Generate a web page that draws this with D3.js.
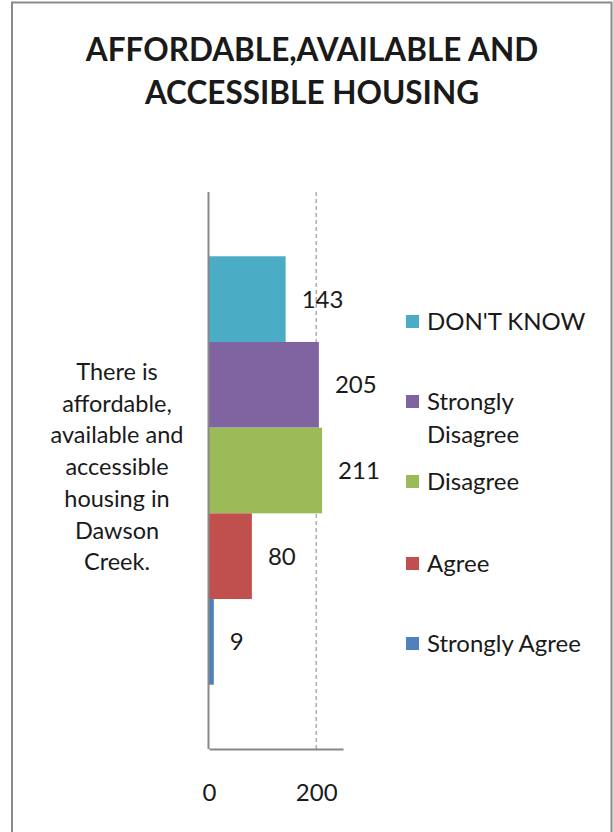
<!DOCTYPE html>
<html>
<head>
<meta charset="utf-8">
<script src="https://cdn.jsdelivr.net/npm/d3@7/dist/d3.min.js"></script>
<style>
  html, body { margin: 0; padding: 0; background: #fff; }
  svg { display: block; }
  text { font-family: Lato, "Open Sans", sans-serif; fill: #1a1a1a; }
</style>
</head>
<body>
<svg id="chart" width="613" height="832"></svg>
<script>
// Survey responses for one statement
const titleLines = ["AFFORDABLE,AVAILABLE AND", "ACCESSIBLE HOUSING"];
const categoryLines = ["There is", "affordable,", "available and", "accessible", "housing in", "Dawson", "Creek."];
const series = ["DON'T KNOW", "Strongly Disagree", "Disagree", "Agree", "Strongly Agree"];
const values = [143, 205, 211, 80, 9];
const colors = ["#4BACC6", "#8064A2", "#9BBB59", "#C0504D", "#4F81BD"];
const legendLines = [["DON'T KNOW"], ["Strongly", "Disagree"], ["Disagree"], ["Agree"], ["Strongly Agree"]];
const tickValues = [0, 200];
const axisMax = 250;

const svg = d3.select("#chart");

// Chart frame
svg.append("rect")
  .attr("x", 12).attr("y", 2.5)
  .attr("width", 599.5).attr("height", 840)
  .attr("fill", "#fff").attr("stroke", "#8a8a8a").attr("stroke-width", 2);

// Title
svg.append("g").selectAll("text")
  .data(titleLines).join("text")
  .attr("x", 312).attr("y", (d, i) => 61 + i * 43)
  .attr("text-anchor", "middle")
  .attr("font-size", 31.5).attr("font-weight", "bold")
  .attr("fill", "#000")
  .text(d => d);

// Plot geometry
const plotTop = 192, plotBottom = 749, plotLeft = 209;
const x = d3.scaleLinear().domain([0, axisMax]).range([plotLeft, 343]);

// One category band, bars separated from band edges by a 150% gap
const bandH = plotBottom - plotTop;
const barH = bandH / (series.length + 1.5);
const gap = (bandH - barH * series.length) / 2;
const y = d3.scaleBand().domain(series)
  .range([plotTop + gap, plotBottom - gap]).padding(0);

// Dashed gridline(s) for ticks above zero
svg.append("g").selectAll("line")
  .data(tickValues.filter(v => v > 0)).join("line")
  .attr("x1", d => x(d)).attr("x2", d => x(d))
  .attr("y1", plotTop).attr("y2", plotBottom)
  .attr("stroke", "#9a9a9a").attr("stroke-width", 1.2)
  .attr("stroke-dasharray", "4,3");

// Bars
svg.append("g").selectAll("rect")
  .data(series).join("rect")
  .attr("x", x(0))
  .attr("y", d => y(d))
  .attr("width", (d, i) => x(values[i]) - x(0))
  .attr("height", y.bandwidth())
  .attr("fill", (d, i) => colors[i]);

// Value labels
svg.append("g").selectAll("text")
  .data(series).join("text")
  .attr("x", (d, i) => x(values[i]) + 16)
  .attr("y", d => y(d) + y.bandwidth() / 2)
  .attr("dy", "0.35em")
  .attr("font-size", 24)
  .text((d, i) => values[i]);

// Axes
const xAxis = d3.axisBottom(x).tickValues(tickValues).tickSize(0).tickPadding(35);
const gx = svg.append("g").attr("transform", `translate(0,${plotBottom})`).call(xAxis);
gx.select(".domain").attr("stroke", "#888").attr("stroke-width", 2);
gx.selectAll("text").attr("font-size", 24).attr("fill", "#1a1a1a")
  .style("font-family", "Lato, sans-serif");

svg.append("line")
  .attr("x1", plotLeft - 0.5).attr("x2", plotLeft - 0.5)
  .attr("y1", plotTop).attr("y2", plotBottom)
  .attr("stroke", "#888").attr("stroke-width", 2);

// Category label
svg.append("g").selectAll("text")
  .data(categoryLines).join("text")
  .attr("x", 117).attr("y", (d, i) => 380 + i * 31.7)
  .attr("text-anchor", "middle")
  .attr("font-size", 23.5)
  .text(d => d);

// Legend
const legendY = [322, 402, 482, 564, 644];
const lg = svg.append("g").selectAll("g")
  .data(series).join("g")
  .attr("transform", (d, i) => `translate(406,${legendY[i]})`);
lg.append("rect")
  .attr("x", 0).attr("y", -7).attr("width", 13).attr("height", 13)
  .attr("fill", (d, i) => colors[i]);
lg.append("text")
  .attr("x", 21)
  .attr("font-size", 24)
  .selectAll("tspan")
  .data((d, i) => legendLines[i]).join("tspan")
  .attr("x", 21)
  .attr("y", (d, j) => j * 33)
  .attr("dy", "0.35em")
  .text(d => d);
</script>
</body>
</html>
